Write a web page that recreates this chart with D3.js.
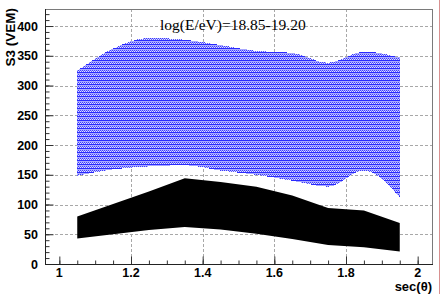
<!DOCTYPE html>
<html><head><meta charset="utf-8">
<script src="https://cdn.jsdelivr.net/npm/d3@7"></script>
<style>
html,body{margin:0;padding:0;background:#fff;}
svg{display:block;}
</style></head>
<body>
<script>
// ---- data ----
const secValues   = [1.05, 1.15, 1.25, 1.35, 1.45, 1.55, 1.65, 1.75, 1.85, 1.95];
const blueUpper   = [325, 362, 380, 377, 368, 358, 355, 338, 357, 347];
const blueLower   = [148, 159, 164, 166, 157, 150, 140, 130, 157, 112];
const blackUpper  = [80, 101, 122, 144, 138, 130, 115, 94, 90, 69];
const blackLower  = [43, 50, 57, 62, 58, 51, 42, 32, 28, 21];
const xTickLabels = [1, 1.2, 1.4, 1.6, 1.8, 2];
const yTickLabels = [0, 50, 100, 150, 200, 250, 300, 350, 400];
const titleText = "log(E/eV)=18.85-19.20";
const xTitle = "sec(\u03B8)";
const yTitle = "S3 (VEM)";

const W = 442, H = 294;
const m = {left: 45, top: 9, right: 432, bottom: 264};

const svg = d3.select("body").append("svg").attr("width", W).attr("height", H);

const x = d3.scaleLinear().domain([0.96, 2.04]).range([m.left, m.right]);
const y = d3.scaleLinear().domain([0, 428.6]).range([m.bottom, m.top]);

// pattern for hatched blue band
const defs = svg.append("defs");
const pat = defs.append("pattern").attr("id", "hatch").attr("patternUnits", "userSpaceOnUse")
  .attr("width", 4).attr("height", 4);
const cells = [
  // [x,y,w,h,color]
  [0,0,4,4,"#ffffff"],
  [0,0,4,1,"#2a2aff"],
  [0,1,4,1,"#a8a8ff"],
  [0,2,1,1,"#3a3aff"],[2,2,1,1,"#3a3aff"],[1,2,1,1,"#b8b8ff"],[3,2,1,1,"#b8b8ff"],
  [1,3,1,1,"#5c5cff"],[3,3,1,1,"#5c5cff"],[0,3,1,1,"#e4e4ff"],[2,3,1,1,"#e4e4ff"]
];
cells.forEach(c => pat.append("rect").attr("x", c[0]).attr("y", c[1]).attr("width", c[2]).attr("height", c[3]).attr("fill", c[4]));

// grid
const gridX = [1.2, 1.4, 1.6, 1.8];
const gridY = yTickLabels.filter(v => v > 0);
const g = svg.append("g");
g.selectAll("line.gx").data(gridX).enter().append("line")
  .attr("x1", d => Math.round(x(d)) + 0.5).attr("x2", d => Math.round(x(d)) + 0.5)
  .attr("y1", m.top).attr("y2", m.bottom)
  .attr("stroke", "#a8a8a8").attr("stroke-dasharray", "3,2");
g.selectAll("line.gy").data(gridY).enter().append("line")
  .attr("y1", d => Math.round(y(d)) + 0.5).attr("y2", d => Math.round(y(d)) + 0.5)
  .attr("x1", m.left).attr("x2", m.right)
  .attr("stroke", "#a8a8a8").attr("stroke-dasharray", "3,2");

// bands
const pts = secValues.map((s, i) => ({s, bu: blueUpper[i], bl: blueLower[i], ku: blackUpper[i], kl: blackLower[i]}));
const blueArea = d3.area().x(d => x(d.s)).y0(d => y(d.bl)).y1(d => y(d.bu)).curve(d3.curveMonotoneX);
svg.append("path").datum(pts).attr("d", blueArea).attr("fill", "url(#hatch)").attr("shape-rendering", "crispEdges");
const blackArea = d3.area().x(d => x(d.s)).y0(d => y(d.kl)).y1(d => y(d.ku)).curve(d3.curveLinear);
svg.append("path").datum(pts).attr("d", blackArea).attr("fill", "#000");

// frame
svg.append("rect").attr("x", m.left + 0.5).attr("y", m.top + 0.5)
  .attr("width", m.right - m.left).attr("height", m.bottom - m.top)
  .attr("fill", "none").attr("stroke", "#7a7a7a");

// axes (ticks inside)
const xAx = svg.append("g").attr("transform", `translate(0,${m.bottom + 0.5})`)
  .call(d3.axisTop(x).tickValues(xTickLabels).tickSize(8).tickFormat(""));
xAx.select(".domain").remove();
xAx.selectAll("line").attr("stroke", "#333");
const xMinor = d3.range(0, 21).map(i => 1 + i * 0.05);
const xAxMin = svg.append("g").attr("transform", `translate(0,${m.bottom + 0.5})`)
  .call(d3.axisTop(x).tickValues(xMinor).tickSize(4).tickFormat(""));
xAxMin.select(".domain").remove();
xAxMin.selectAll("line").attr("stroke", "#333");

const yAx = svg.append("g").attr("transform", `translate(${m.left + 0.5},0)`)
  .call(d3.axisRight(y).tickValues(yTickLabels).tickSize(8).tickFormat(""));
yAx.select(".domain").remove();
yAx.selectAll("line").attr("stroke", "#333");
const yMinor = d3.range(0, 43).map(i => i * 10);
const yAxMin = svg.append("g").attr("transform", `translate(${m.left + 0.5},0)`)
  .call(d3.axisRight(y).tickValues(yMinor).tickSize(4).tickFormat(""));
yAxMin.select(".domain").remove();
yAxMin.selectAll("line").attr("stroke", "#333");

svg.append("line").attr("x1", m.left).attr("x2", m.right + 1).attr("y1", m.bottom + 0.5).attr("y2", m.bottom + 0.5).attr("stroke", "#222");
svg.append("line").attr("x1", m.left + 0.5).attr("x2", m.left + 0.5).attr("y1", m.top).attr("y2", m.bottom + 1).attr("stroke", "#222");

// tick labels
const lab = {"font-family": "'Liberation Sans', Arial, sans-serif", "font-weight": "bold", "font-size": "12.5px", "fill": "#000"};
const xl = svg.append("g").selectAll("text").data(xTickLabels).enter().append("text")
  .attr("x", d => x(d)).attr("y", 277).attr("text-anchor", "middle").text(d => d3.format("")(d));
Object.entries(lab).forEach(([k, v]) => xl.attr(k, v));
const yl = svg.append("g").selectAll("text").data(yTickLabels).enter().append("text")
  .attr("x", 38).attr("y", d => y(d)).attr("dy", "0.36em").attr("text-anchor", "end").text(d => d);
Object.entries(lab).forEach(([k, v]) => yl.attr(k, v));

// axis titles
svg.append("text").attr("x", m.right).attr("y", 291).attr("text-anchor", "end")
  .attr("font-family", "'Liberation Sans', Arial, sans-serif").attr("font-weight", "bold")
  .attr("font-size", "13px").text(xTitle);
svg.append("text").attr("transform", "translate(15,8) rotate(-90)").attr("text-anchor", "end")
  .attr("font-family", "'Liberation Sans', Arial, sans-serif").attr("font-weight", "bold")
  .attr("font-size", "13.5px").text(yTitle);

// title
svg.append("text").attr("x", 160).attr("y", 29.5)
  .attr("font-family", "'Liberation Serif', 'Times New Roman', serif")
  .attr("font-size", "15.5px").attr("fill", "#000").text(titleText);

// right border line
svg.append("line").attr("x1", 439.5).attr("x2", 439.5).attr("y1", 0).attr("y2", H)
  .attr("stroke", "#d89090").attr("stroke-width", 1);
</script>
</body></html>
